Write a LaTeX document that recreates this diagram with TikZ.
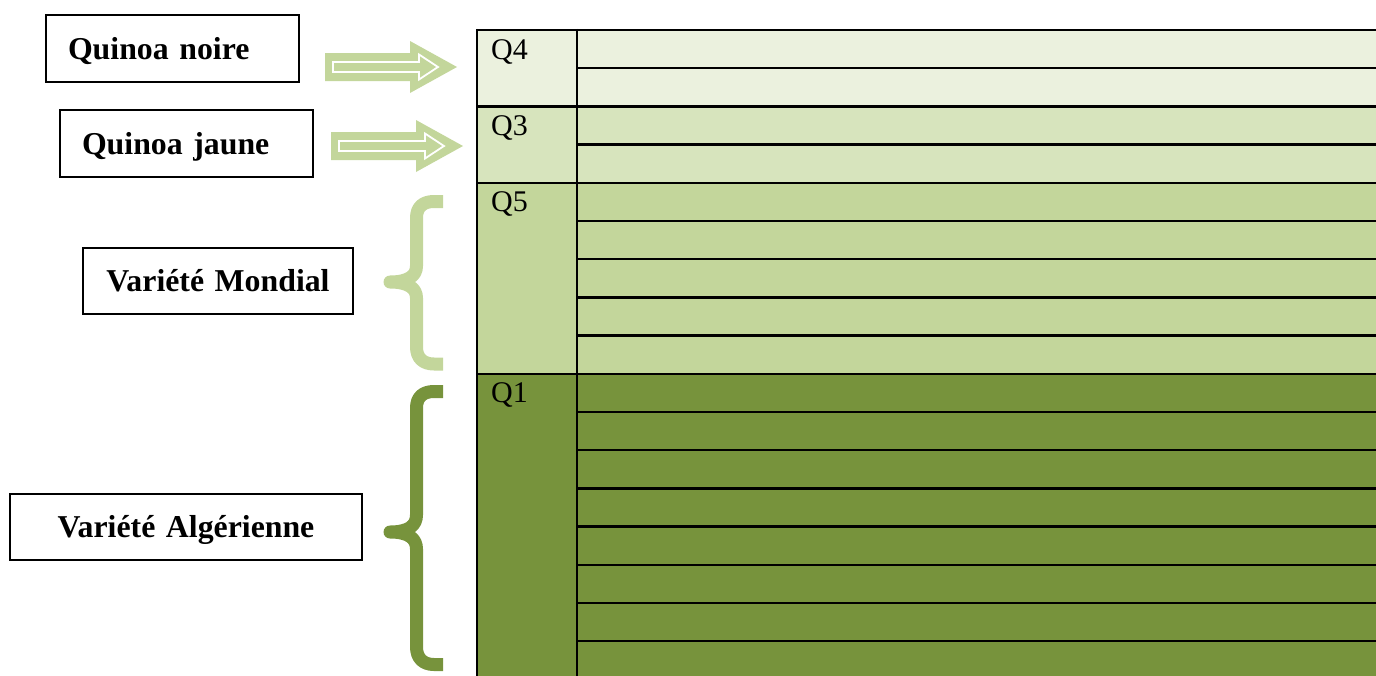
\documentclass[tikz,border=0pt]{standalone}
\usepackage{fontspec}
\setmainfont{Liberation Serif}
\definecolor{gQ4}{HTML}{EBF1DE}
\definecolor{gQ3}{HTML}{D7E4BD}
\definecolor{gQ5}{HTML}{C3D69B}
\definecolor{gQ1}{HTML}{77933C}
\begin{document}
\begin{tikzpicture}[x=1pt,y=-1pt,
  lbox/.style={draw=black, line width=1.3pt, rectangle, inner ysep=0pt,
    font=\fontsize{31.8}{36}\selectfont\bfseries, text height=21pt, text depth=0pt},
  qlab/.style={inner sep=0pt, font=\fontsize{30}{34}\selectfont},
  grid/.style={line width=2.5pt, black},
  bracestroke/.style={line width=13pt, line cap=butt, line join=round},
  fatarrow/.pic={
    \fill[gQ5] (0,-14) -- (85,-14) -- (85,-26) -- (132,0) -- (85,26) -- (85,14) -- (0,14) -- cycle;
    \draw[white, line width=1.8pt, fill=gQ5] (8,-5) -- (94,-5) -- (94,-12.5) -- (113,0) -- (94,12.5) -- (94,5) -- (8,5) -- cycle;
  }]
\useasboundingbox (0,0) rectangle (1376,675);
\clip (0,0) rectangle (1376,675);

% label boxes
\node[lbox, minimum width=253pt, minimum height=67pt, text width=209pt, inner xsep=22pt, align=left] (noire) at (172.5,48.5) {Quinoa noire};
\node[lbox, minimum width=253pt, minimum height=67pt, text width=209pt, inner xsep=22pt, align=left] (jaune) at (186.5,143.5) {Quinoa jaune};
\node[lbox, minimum width=270pt, minimum height=66pt, text width=230pt, inner xsep=20pt, align=center] (mondial) at (218,281) {Variété Mondial};
\node[lbox, minimum width=352pt, minimum height=66pt, text width=300pt, inner xsep=26pt, align=center] (alg) at (186,527) {Variété Algérienne};

% arrows
\pic at (325,67) {fatarrow};
\pic at (331,146) {fatarrow};

% braces
\draw[bracestroke, gQ5] (443,201.5) -- (434,201.5) .. controls (423,201.5) and (416.5,207) .. (416.5,218) -- (416.5,266) .. controls (416.5,276) and (408,282) .. (390,282) .. controls (408,282) and (416.5,288) .. (416.5,298) -- (416.5,347) .. controls (416.5,358) and (423,364) .. (434,364) -- (443,364);
\draw[bracestroke, gQ1] (443,391.5) -- (434,391.5) .. controls (423,391.5) and (416.5,397) .. (416.5,408) -- (416.5,515) .. controls (416.5,526) and (408,532) .. (390,532) .. controls (408,532) and (416.5,538) .. (416.5,549) -- (416.5,647) .. controls (416.5,658) and (423,664.5) .. (434,664.5) -- (443,664.5);

% table fills
\fill[gQ4] (477,30) rectangle (1390,106.4);
\fill[gQ3] (477,106.4) rectangle (1390,182.8);
\fill[gQ5] (477,182.8) rectangle (1390,373.8);
\fill[gQ1] (477,373.8) rectangle (1390,700);

% table lines
\foreach \k in {0,2,4,9} {
  \draw[grid] (477,30+38.2*\k) -- (1390,30+38.2*\k);
}
\foreach \k in {1,3,5,6,7,8,10,11,12,13,14,15,16} {
  \draw[grid] (577,30+38.2*\k) -- (1390,30+38.2*\k);
}
\draw[grid] (477,28.8) -- (477,700);
\draw[grid] (577,28.8) -- (577,700);

% row labels
\node[qlab, anchor=base west] (q4) at (491,59) {Q4};
\node[qlab, anchor=base west] (q3) at (491,135.4) {Q3};
\node[qlab, anchor=base west] (q5) at (491,211.8) {Q5};
\node[qlab, anchor=base west] (q1) at (491,402.8) {Q1};
\end{tikzpicture}
\end{document}
